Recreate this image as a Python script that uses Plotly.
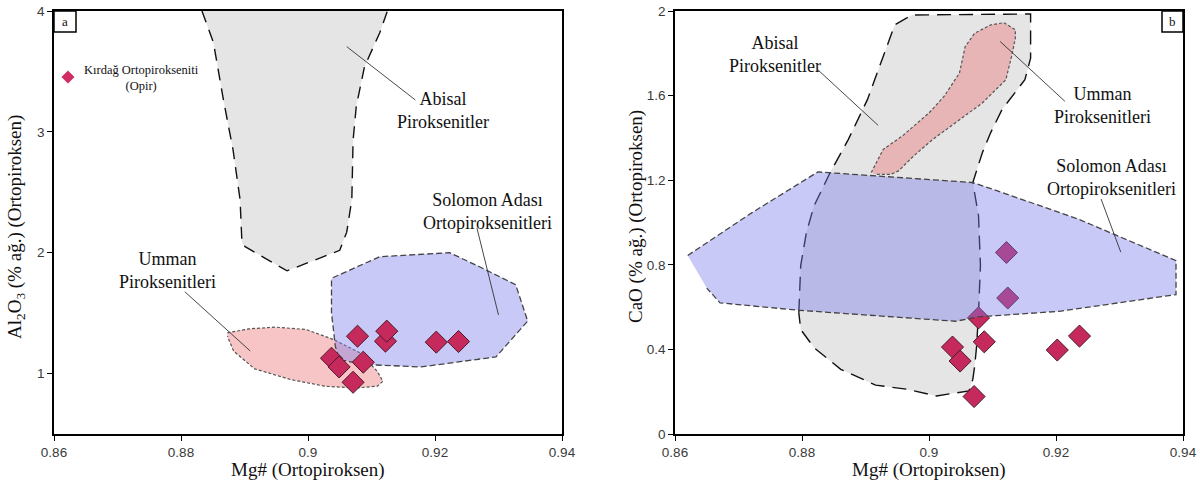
import plotly.graph_objects as go

# ---------------- data ----------------
mg_number = [0.9037, 0.9049, 0.9071, 0.9078, 0.9087, 0.9122, 0.9124, 0.9202, 0.9237]
al2o3 = [1.127, 1.055, 0.928, 1.309, 1.094, 1.268, 1.351, 1.260, 1.265]
cao = [0.411, 0.345, 0.177, 0.549, 0.436, 0.858, 0.643, 0.397, 0.463]

x_ticks = [0.86, 0.88, 0.90, 0.92, 0.94]
x_tick_labels = ["0.86", "0.88", "0.9", "0.92", "0.94"]
al_ticks = [1, 2, 3, 4]
al_tick_labels = ["1", "2", "3", "4"]
ca_ticks = [0, 0.4, 0.8, 1.2, 1.6, 2]
ca_tick_labels = ["0", "0.4", "0.8", "1.2", "1.6", "2"]

# field outlines (panel a: Mg# vs Al2O3)
abisal_a_x = [0.8833, 0.8851, 0.8867, 0.8882, 0.8893, 0.8896, 0.8901, 0.8967, 0.9050, 0.9061,
              0.9069, 0.9071, 0.9076, 0.9089, 0.9113, 0.9125]
abisal_a_y = [4.0, 3.74, 3.26, 2.85, 2.44, 2.08, 2.05, 1.85, 2.02, 2.17,
              2.44, 2.93, 3.21, 3.54, 3.82, 4.0]
umman_a_x = [0.8873, 0.8907, 0.8949, 0.8997, 0.9040, 0.9082, 0.9109, 0.9118, 0.9109, 0.9076,
             0.9027, 0.8973, 0.8916, 0.8883, 0.8873]
umman_a_y = [1.337, 1.370, 1.384, 1.365, 1.282, 1.171, 1.019, 0.936, 0.895, 0.881,
             0.895, 0.950, 1.039, 1.185, 1.309]
solomon_a_x = [0.9039, 0.9113, 0.9223, 0.9270, 0.9327, 0.9346, 0.9296, 0.9178, 0.9088, 0.9049,
               0.9043, 0.9037, 0.9037]
solomon_a_y = [1.793, 1.967, 2.0, 1.884, 1.736, 1.434, 1.138, 1.055, 1.075, 1.116,
               1.227, 1.503, 1.78]

# field outlines (panel b: Mg# vs CaO)
abisal_b_x = [0.8795, 0.8798, 0.8807, 0.8819, 0.8843, 0.8873, 0.8903, 0.8931, 0.8946, 0.8973,
              0.9160, 0.9160, 0.9151, 0.9115, 0.9097, 0.9084, 0.9069, 0.9078, 0.9081, 0.9078,
              0.9075, 0.9072, 0.9069, 0.9063, 0.9012, 0.8964, 0.8916, 0.8861, 0.8819, 0.8798,
              0.8795]
abisal_b_y = [0.573, 0.797, 0.954, 1.079, 1.228, 1.393, 1.581, 1.816, 1.934, 1.981,
              1.986, 1.777, 1.675, 1.534, 1.424, 1.330, 1.189, 1.032, 0.797, 0.573,
              0.416, 0.322, 0.259, 0.204, 0.180, 0.212, 0.231, 0.306, 0.408, 0.494,
              0.573]
umman_b_x = [0.8909, 0.8928, 0.8958, 0.9000, 0.9024, 0.9048, 0.9057, 0.9072, 0.9097, 0.9118,
             0.9136, 0.9136, 0.9130, 0.9121, 0.9084, 0.9042, 0.9006, 0.8976, 0.8952, 0.8940,
             0.8916]
umman_b_y = [1.236, 1.346, 1.409, 1.518, 1.597, 1.707, 1.832, 1.895, 1.934, 1.945,
             1.911, 1.871, 1.785, 1.675, 1.565, 1.471, 1.393, 1.315, 1.244, 1.228,
             1.228]
solomon_b_x = [0.8620, 0.8722, 0.8825, 0.9069, 0.9115, 0.9235, 0.9389, 0.9389, 0.9205, 0.9078,
               0.9042, 0.8795, 0.8671, 0.8650]
solomon_b_y = [0.844, 1.048, 1.239, 1.189, 1.142, 1.016, 0.820, 0.659, 0.580, 0.554,
               0.533, 0.585, 0.620, 0.690]

legend_point = [0.8622, 3.454]

# ---------------- styles / layout geometry ----------------
SERIF = "Liberation Serif, Times New Roman, serif"
SANS = "Liberation Sans, Arial, sans-serif"
GREY_FILL = "#e5e5e5"
PINK_FILL = "rgba(235,110,110,0.40)"
BLUE_FILL = "rgba(120,120,235,0.40)"
PT_FILL = "#c62a5c"
PT_LINE = "#4a1a2a"

W, H = 1200, 484
ML, MR, MT, MB = 54, 17, 11, 50
PW, PH = W - ML - MR, H - MT - MB


def px(xs):
    """pixel x -> paper x"""
    return (xs - ML) / PW


def py(ys):
    """pixel y -> paper y"""
    return (H - MB - ys) / PH


fig = go.Figure()


def region(x, y, fill, dash, color, width, xa, ya):
    fig.add_trace(go.Scatter(x=x, y=y, mode="lines", fill="toself", fillcolor=fill,
                             line=dict(color=color, width=width, dash=dash),
                             xaxis=xa, yaxis=ya, hoverinfo="skip", showlegend=False))


def points(y, xa, ya):
    fig.add_trace(go.Scatter(x=mg_number, y=y, mode="markers",
                             marker=dict(symbol="diamond", size=17, color=PT_FILL,
                                         line=dict(color=PT_LINE, width=1)),
                             xaxis=xa, yaxis=ya, showlegend=False))


# panel a
region(abisal_a_x, abisal_a_y, GREY_FILL, "12px,8px", "#111", 1.4, "x", "y")
region(umman_a_x, umman_a_y, PINK_FILL, "3px,2px", "#555", 1.2, "x", "y")
region(solomon_a_x, solomon_a_y, BLUE_FILL, "6px,3px", "#444", 1.3, "x", "y")
points(al2o3, "x", "y")
fig.add_trace(go.Scatter(x=[legend_point[0]], y=[legend_point[1]], mode="markers",
                         marker=dict(symbol="diamond", size=10, color="#d02c66"),
                         xaxis="x", yaxis="y", showlegend=False))

# panel b
region(abisal_b_x, abisal_b_y, GREY_FILL, "14px,8px", "#111", 1.4, "x2", "y2")
region(umman_b_x, umman_b_y, PINK_FILL, "3px,2px", "#555", 1.2, "x2", "y2")
points(cao, "x2", "y2")
region(solomon_b_x, solomon_b_y, BLUE_FILL, "6px,3px", "#444", 1.3, "x2", "y2")

axis_common = dict(showline=True, linewidth=1.5, linecolor="black", mirror=True,
                   ticks="outside", ticklen=5, tickwidth=1, tickcolor="black",
                   showgrid=False, zeroline=False, automargin=False,
                   ticklabeloverflow="allow",
                   tickfont=dict(family=SANS, size=13.5, color="#3a3a3a"))

fig.update_layout(
    width=W, height=H,
    margin=dict(l=ML, r=MR, t=MT, b=MB, autoexpand=False),
    paper_bgcolor="white", plot_bgcolor="white",
    showlegend=False,
    xaxis=dict(domain=[0, px(562)], range=[0.86, 0.94], anchor="y",
               tickvals=x_ticks, ticktext=x_tick_labels, **axis_common),
    yaxis=dict(domain=[0, 1], range=[0.5, 4], anchor="x",
               tickvals=al_ticks, ticktext=al_tick_labels, **axis_common),
    xaxis2=dict(domain=[px(675), 1], range=[0.86, 0.94], anchor="y2",
                tickvals=x_ticks, ticktext=x_tick_labels, **axis_common),
    yaxis2=dict(domain=[0, 1], range=[0, 2], anchor="x2",
                tickvals=ca_ticks, ticktext=ca_tick_labels, **axis_common),
)

ann = []
C = dict(showarrow=False, xanchor="center", yanchor="middle", align="center")
lbl = dict(family=SERIF, size=18, color="#111")
# panel a labels
ann.append(dict(x=0.9212, y=3.173, xref="x", yref="y", text="Abisal<br>Piroksenitler", font=lbl, **C))
ann.append(dict(x=0.9283, y=2.337, xref="x", yref="y", text="Solomon Adası<br>Ortopiroksenitleri",
                font=lbl, **C))
ann.append(dict(x=0.8778, y=1.849, xref="x", yref="y", text="Umman<br>Piroksenitleri", font=lbl, **C))
ann.append(dict(x=0.8738, y=3.446, xref="x", yref="y", text="Kırdağ Ortopirokseniti<br>(Opir)",
                font=dict(family=SERIF, size=12.5, color="#111"), **C))
# panel b labels
ann.append(dict(x=0.8757, y=1.793, xref="x2", yref="y2", text="Abisal<br>Piroksenitler", font=lbl, **C))
ann.append(dict(x=0.9274, y=1.554, xref="x2", yref="y2", text="Umman<br>Piroksenitleri", font=lbl, **C))
ann.append(dict(x=0.9287, y=1.212, xref="x2", yref="y2", text="Solomon Adası<br>Ortopiroksenitleri",
                font=lbl, **C))
# panel letters
ann.append(dict(x=px(65), y=py(21.5), xref="paper", yref="paper", text="a",
                font=dict(family=SERIF, size=13, color="#111"), **C))
ann.append(dict(x=px(1172.5), y=py(21.5), xref="paper", yref="paper", text="b",
                font=dict(family=SERIF, size=13, color="#111"), **C))
# axis titles
tfont = dict(family=SERIF, size=19, color="#111")
ann.append(dict(x=px(308), y=py(470), xref="paper", yref="paper",
                text="Mg# (Ortopiroksen)", font=tfont, **C))
ann.append(dict(x=px(929), y=py(470), xref="paper", yref="paper",
                text="Mg# (Ortopiroksen)", font=tfont, **C))
ann.append(dict(x=px(16), y=py(227), xref="paper", yref="paper", textangle=-90,
                text="Al<sub>2</sub>O<sub>3</sub> (% ağ.) (Ortopiroksen)", font=tfont, **C))
ann.append(dict(x=px(636), y=py(217), xref="paper", yref="paper", textangle=-90,
                text="CaO (% ağ.) (Ortopiroksen)", font=tfont, **C))
fig.update_layout(annotations=ann)

lead = dict(color="#333", width=0.9)
shapes = [
    dict(type="line", xref="x", yref="y", x0=0.9061, y0=3.705, x1=0.9169, y1=3.264, line=lead),
    dict(type="line", xref="x", yref="y", x0=0.9266, y0=2.205, x1=0.9300, y1=1.485, line=lead),
    dict(type="line", xref="x", yref="y", x0=0.8806, y0=1.677, x1=0.8909, y1=1.187, line=lead),
    dict(type="line", xref="x2", yref="y2", x0=0.8825, y0=1.722, x1=0.8920, y1=1.459, line=lead),
    dict(type="line", xref="x2", yref="y2", x0=0.9112, y0=1.856, x1=0.9214, y1=1.573, line=lead),
    dict(type="line", xref="x2", yref="y2", x0=0.9271, y0=1.111, x1=0.9302, y1=0.860, line=lead),
    dict(type="rect", xref="paper", yref="paper", x0=px(54), x1=px(76),
         y0=py(32), y1=py(11), line=dict(color="black", width=1.5)),
    dict(type="rect", xref="paper", yref="paper", x0=px(1162), x1=px(1183),
         y0=py(32), y1=py(11), line=dict(color="black", width=1.5)),
]
fig.update_layout(shapes=shapes)

fig.write_html("out.html", config={"displayModeBar": False},
               post_script="document.body.style.margin='0px';")
